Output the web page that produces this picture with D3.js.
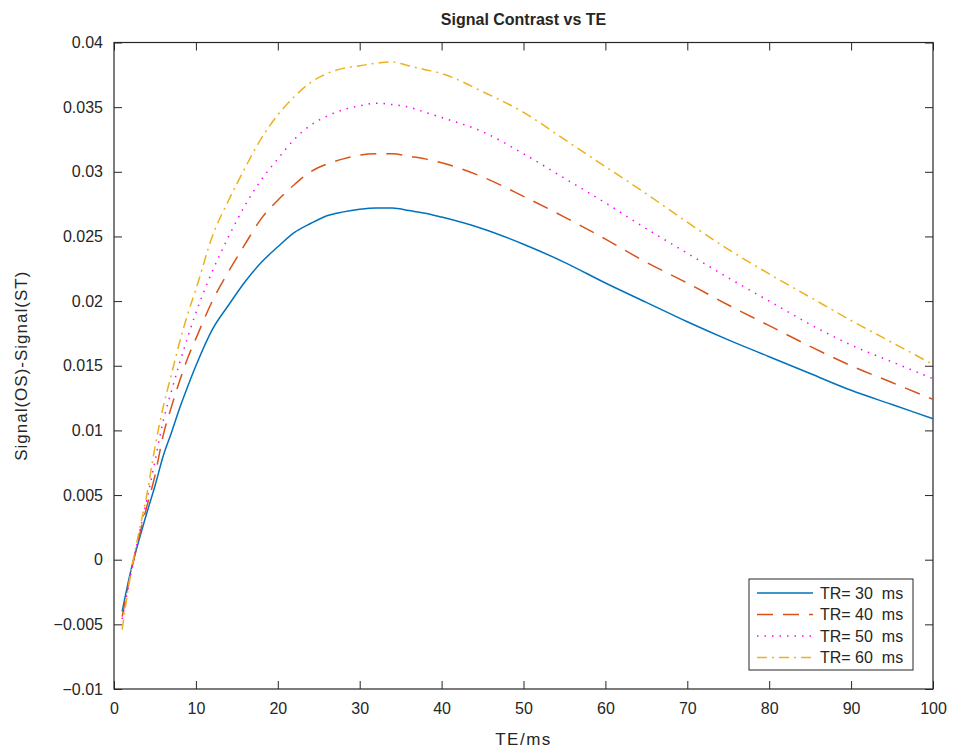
<!DOCTYPE html>
<html>
<head>
<meta charset="utf-8">
<script src="https://cdn.jsdelivr.net/npm/d3@7"></script>
<style>
  html, body { margin: 0; padding: 0; background: #fff; }
  svg { display: block; }
  text { font-family: "Liberation Sans", Arial, sans-serif; fill: #262626; }
</style>
</head>
<body>
<svg id="chart" width="957" height="751"></svg>
<script>
// Echo time samples (ms)
const te = [1, 2, 3, 4, 5, 6, 7, 8, 9, 10, 12, 14, 16, 18, 20, 22, 24, 26, 28, 30,
            32, 34, 36, 38, 40, 45, 50, 55, 60, 65, 70, 75, 80, 85, 90, 95, 100];

// Signal(OS) - Signal(ST) for each repetition time
const tr30 = [-0.0040, -0.0010, 0.0014, 0.0036, 0.0057, 0.0080, 0.0098, 0.0117, 0.0134, 0.0150,
              0.0178, 0.0197, 0.0215, 0.0230, 0.0242, 0.0253, 0.0260, 0.0266, 0.0269, 0.0271,
              0.0272, 0.0272, 0.0270, 0.0268, 0.0265, 0.0256, 0.0244, 0.0230, 0.0214, 0.0199,
              0.0184, 0.0170, 0.0157, 0.0144, 0.0131, 0.0120, 0.0109];
const tr40 = [-0.0044, -0.0012, 0.0016, 0.0041, 0.0065, 0.0096, 0.0118, 0.0138, 0.0156, 0.0171,
              0.0200, 0.0223, 0.0244, 0.0264, 0.0278, 0.0290, 0.0300, 0.0306, 0.0310, 0.0313,
              0.0314, 0.0314, 0.0312, 0.0310, 0.0307, 0.0296, 0.0281, 0.0265, 0.0248, 0.0230,
              0.0214, 0.0197, 0.0181, 0.0165, 0.0150, 0.0137, 0.0124];
const tr50 = [-0.0046, -0.0013, 0.0018, 0.0046, 0.0076, 0.0107, 0.0130, 0.0152, 0.0172, 0.0191,
              0.0223, 0.0250, 0.0274, 0.0294, 0.0310, 0.0325, 0.0336, 0.0343, 0.0348, 0.0351,
              0.0353, 0.0352, 0.0350, 0.0346, 0.0342, 0.0331, 0.0314, 0.0295, 0.0276, 0.0256,
              0.0237, 0.0218, 0.0200, 0.0182, 0.0166, 0.0153, 0.0140];
const tr60 = [-0.0054, -0.0012, 0.0020, 0.0050, 0.0087, 0.0118, 0.0143, 0.0168, 0.0190, 0.0209,
              0.0250, 0.0278, 0.0303, 0.0326, 0.0344, 0.0358, 0.0369, 0.0376, 0.0380, 0.0382,
              0.0384, 0.0385, 0.0382, 0.0379, 0.0376, 0.0362, 0.0346, 0.0325, 0.0304, 0.0283,
              0.0261, 0.0240, 0.0221, 0.0203, 0.0185, 0.0168, 0.0151];

const seriesNames = ["TR= 30  ms", "TR= 40  ms", "TR= 50  ms", "TR= 60  ms"];
const seriesValues = [tr30, tr40, tr50, tr60];
const seriesColors = ["#0072BD", "#D95319", "#FF00FF", "#EDB120"];
const seriesDashes = [null, "16,10", "1.5,6", "10,5,2,5"];

const xTicks = [0, 10, 20, 30, 40, 50, 60, 70, 80, 90, 100];
const yTicks = [-0.01, -0.005, 0, 0.005, 0.01, 0.015, 0.02, 0.025, 0.03, 0.035, 0.04];

const plot = { left: 114, right: 933, top: 42.5, bottom: 689 };

const svg = d3.select("#chart");
const x = d3.scaleLinear().domain([0, 100]).range([plot.left, plot.right]);
const y = d3.scaleLinear().domain([-0.01, 0.04]).range([plot.bottom, plot.top]);

const tickLen = 8;
const axisColor = "#262626";

function styleAxis(g) {
  g.select(".domain").remove();
  g.selectAll(".tick line").attr("stroke", axisColor).attr("stroke-width", 1);
  g.selectAll(".tick text").attr("fill", "#3a3a3a")
    .style("font-size", "16px").style("font-family", "\"Liberation Sans\", Arial, sans-serif");
}

// Bottom axis with inward ticks and labels below
svg.append("g").attr("transform", `translate(0,${plot.bottom})`)
  .call(d3.axisBottom(x).tickValues(xTicks).tickFormat(d3.format("d"))
    .tickSizeInner(-tickLen).tickSizeOuter(0).tickPadding(14))
  .call(styleAxis);
// Top axis: ticks only
svg.append("g").attr("transform", `translate(0,${plot.top})`)
  .call(d3.axisTop(x).tickValues(xTicks).tickFormat("")
    .tickSizeInner(-tickLen).tickSizeOuter(0))
  .call(styleAxis);
// Left axis with labels
svg.append("g").attr("transform", `translate(${plot.left},0)`)
  .call(d3.axisLeft(y).tickValues(yTicks).tickFormat(d => d3.format("")(+d.toFixed(3)))
    .tickSizeInner(-tickLen).tickSizeOuter(0).tickPadding(11))
  .call(styleAxis);
// Right axis: ticks only
svg.append("g").attr("transform", `translate(${plot.right},0)`)
  .call(d3.axisRight(y).tickValues(yTicks).tickFormat("")
    .tickSizeInner(-tickLen).tickSizeOuter(0))
  .call(styleAxis);

// Plot frame
svg.append("rect")
  .attr("x", plot.left).attr("y", plot.top)
  .attr("width", plot.right - plot.left).attr("height", plot.bottom - plot.top)
  .attr("fill", "none").attr("stroke", axisColor).attr("stroke-width", 1.2);

// Curves
const line = d3.line()
  .x(d => x(d[0]))
  .y(d => y(d[1]))
  .curve(d3.curveMonotoneX);

const curves = svg.append("g");
seriesValues.forEach((vals, i) => {
  curves.append("path")
    .datum(te.map((t, k) => [t, vals[k]]))
    .attr("d", line)
    .attr("fill", "none")
    .attr("stroke", seriesColors[i])
    .attr("stroke-width", 1.5)
    .attr("stroke-dasharray", seriesDashes[i]);
});

// Title and axis labels
svg.append("text")
  .attr("x", (plot.left + plot.right) / 2).attr("y", 25)
  .attr("text-anchor", "middle")
  .style("font-size", "16px").style("font-weight", "bold")
  .attr("fill", "#000")
  .text("Signal Contrast vs TE");

svg.append("text")
  .attr("x", (plot.left + plot.right) / 2).attr("y", 745)
  .attr("text-anchor", "middle")
  .style("font-size", "17px").style("letter-spacing", "1.5px")
  .text("TE/ms");

svg.append("text")
  .attr("transform", `translate(27,${(plot.top + plot.bottom) / 2}) rotate(-90)`)
  .attr("text-anchor", "middle")
  .style("font-size", "17px").style("letter-spacing", "1px")
  .text("Signal(OS)-Signal(ST)");

// Legend
const legend = svg.append("g").attr("transform", "translate(749,579)");
legend.append("rect")
  .attr("width", 164).attr("height", 91)
  .attr("fill", "#fff").attr("stroke", axisColor).attr("stroke-width", 1);
seriesNames.forEach((name, i) => {
  const ly = 14 + i * 21.5;
  legend.append("line")
    .attr("x1", 8).attr("x2", 64).attr("y1", ly).attr("y2", ly)
    .attr("stroke", seriesColors[i]).attr("stroke-width", 1.5)
    .attr("stroke-dasharray", seriesDashes[i]);
  legend.append("text")
    .attr("x", 71).attr("y", ly + 5.5)
    .attr("xml:space", "preserve")
    .style("white-space", "pre")
    .style("font-size", "16px")
    .text(name);
});
</script>
</body>
</html>
